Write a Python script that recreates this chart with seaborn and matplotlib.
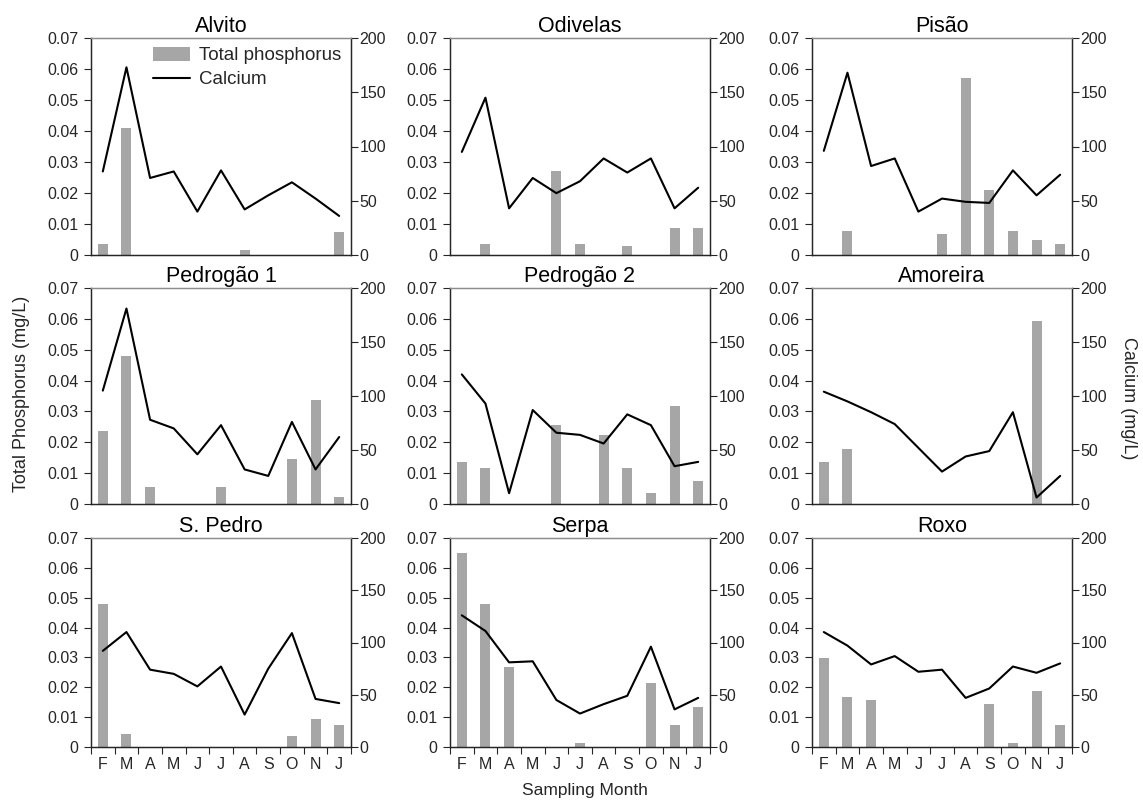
import numpy as np
import pandas as pd
import matplotlib
matplotlib.use("Agg")
import matplotlib.pyplot as plt
from matplotlib.ticker import FuncFormatter
from matplotlib.patches import Patch
from matplotlib.lines import Line2D
import seaborn as sns

# Sampling months (Feb .. Jan, no December)
months = ["F", "M", "A", "M", "J", "J", "A", "S", "O", "N", "J"]

# Total phosphorus (mg/L) per reservoir
tp_alvito = [0.0035, 0.041, 0, 0, 0, 0, 0.0015, 0, 0, 0, 0.0075]
tp_odivelas = [0, 0.0037, 0, 0, 0.027, 0.0037, 0, 0.0028, 0, 0.0086, 0.0086]
tp_pisao = [0, 0.0076, 0, 0, 0, 0.0067, 0.0572, 0.0209, 0.0076, 0.0047, 0.0037]
tp_pedrogao1 = [0.0238, 0.0481, 0.0054, 0, 0, 0.0054, 0, 0, 0.0146, 0.0336, 0.0024]
tp_pedrogao2 = [0.0136, 0.0117, 0, 0, 0.0257, 0, 0.0225, 0.0117, 0.0035, 0.0317, 0.0073]
tp_amoreira = [0.0136, 0.0178, 0, 0, 0, 0, 0, 0, 0, 0.0592, 0]
tp_spedro = [0.048, 0.0045, 0, 0, 0, 0, 0, 0, 0.0036, 0.0093, 0.0073]
tp_serpa = [0.065, 0.048, 0.0267, 0, 0, 0.0013, 0, 0, 0.0215, 0.0073, 0.0133]
tp_roxo = [0.0299, 0.0167, 0.0157, 0, 0, 0, 0, 0.0145, 0.0013, 0.0188, 0.0074]

# Calcium (mg/L) per reservoir
ca_alvito = [77, 173, 71, 77, 40, 78, 42, 55, 67, 52, 36]
ca_odivelas = [95, 145, 43, 71, 57, 68, 89, 76, 89, 43, 62]
ca_pisao = [96, 168, 82, 89, 40, 52, 49, 48, 78, 55, 74]
ca_pedrogao1 = [105, 181, 78, 70, 46, 73, 32, 26, 76, 32, 62]
ca_pedrogao2 = [120, 93, 10, 87, 66, 64, 56, 83, 73, 35, 39]
ca_amoreira = [104, 95, 85, 74, 52, 30, 44, 49, 85, 6, 26]
ca_spedro = [92, 110, 74, 70, 58, 77, 31, 75, 109, 46, 42]
ca_serpa = [126, 111, 81, 82, 45, 32, 41, 49, 96, 36, 47]
ca_roxo = [110, 97, 79, 87, 72, 74, 47, 56, 77, 71, 80]

sites = ["Alvito", "Odivelas", "Pisão", "Pedrogão 1", "Pedrogão 2",
         "Amoreira", "S. Pedro", "Serpa", "Roxo"]
tp_all = [tp_alvito, tp_odivelas, tp_pisao, tp_pedrogao1, tp_pedrogao2,
          tp_amoreira, tp_spedro, tp_serpa, tp_roxo]
ca_all = [ca_alvito, ca_odivelas, ca_pisao, ca_pedrogao1, ca_pedrogao2,
          ca_amoreira, ca_spedro, ca_serpa, ca_roxo]

BAR = "#a6a6a6"
TXT = "#262626"
W, H = 1143, 801

# panel boxes in pixels (left, right) and (top, bottom)
col_px = [(91, 351), (450, 710), (812, 1072)]
row_px = [(38, 255), (288, 504), (538, 747)]

sns.set_style("ticks")
plt.rcParams["font.family"] = ["Liberation Sans", "DejaVu Sans"]

fig, axes = plt.subplots(3, 3, figsize=(W / 100, H / 100), dpi=100)

fmt = FuncFormatter(lambda v, p: "0" if abs(v) < 1e-9 else f"{v:.2f}")

for i, ax in enumerate(axes.flat):
    r, c = divmod(i, 3)
    x0, x1 = col_px[c]
    y0, y1 = row_px[r]
    ax.set_position([x0 / W, 1 - y1 / H, (x1 - x0) / W, (y1 - y0) / H])

    df = pd.DataFrame({"pos": range(len(months)), "tp": tp_all[i], "ca": ca_all[i]})

    sns.barplot(data=df, x="pos", y="tp", color=BAR, saturation=1, width=0.42,
                errorbar=None, linewidth=0, ax=ax)
    ax2 = ax.twinx()
    ax2.set_position(ax.get_position())
    sns.lineplot(data=df, x="pos", y="ca", color="black", lw=1.5, ax=ax2)

    ax.set_xlim(-0.5, len(months) - 0.5)
    ax.set_ylim(0, 0.07)
    ax2.set_ylim(0, 200)
    ax.set_yticks([0, 0.01, 0.02, 0.03, 0.04, 0.05, 0.06, 0.07])
    ax.yaxis.set_major_formatter(fmt)
    ax2.set_yticks([0, 50, 100, 150, 200])
    ax.set_xlabel("")
    ax.set_ylabel("")
    ax2.set_ylabel("")

    ax.tick_params(axis="y", length=5, labelsize=11.5, pad=4, colors=TXT, width=0.8)
    ax2.tick_params(axis="y", length=5, labelsize=11.5, pad=1, colors=TXT, width=0.8)

    ax.set_xticks(range(len(months)))
    if r == 2:
        ax.set_xticklabels(months)
        ax.set_xticks(np.arange(-0.5, len(months), 1.0), minor=True)
        ax.tick_params(axis="x", which="major", length=0, labelsize=11.5, pad=7, colors=TXT)
        ax.tick_params(axis="x", which="minor", length=5, width=0.8, color=TXT)
    else:
        ax.tick_params(axis="x", which="both", length=0, labelbottom=False)

    for a in (ax, ax2):
        for s in ("left", "right", "bottom"):
            a.spines[s].set_color(TXT)
            a.spines[s].set_linewidth(0.9)
        a.spines["top"].set_color("#8c8c8c")
        a.spines["top"].set_linewidth(0.9)

    ax.set_title(sites[i], fontsize=15.5, pad=4, color="black")

    if i == 0:
        handles = [Patch(facecolor=BAR, edgecolor="none"),
                   Line2D([], [], color="black", lw=1.5)]
        ax2.legend(handles, ["Total phosphorus", "Calcium"], loc="upper right",
                   bbox_to_anchor=(1.0, 1.0), frameon=False, fontsize=13.5,
                   handlelength=2.0, handletextpad=0.5, labelspacing=0.35,
                   borderaxespad=0.1)

fig.text(22 / W, 1 - 394 / H, "Total Phosphorus (mg/L)", rotation=90,
         ha="center", va="center", fontsize=13, color=TXT)
fig.text(1128 / W, 1 - 398 / H, "Calcium (mg/L)", rotation=270,
         ha="center", va="center", fontsize=13, color=TXT)
fig.text(585 / W, 1 - 790 / H, "Sampling Month", ha="center", va="center",
         fontsize=12.5, color=TXT)

fig.savefig("out.png", dpi=100)
